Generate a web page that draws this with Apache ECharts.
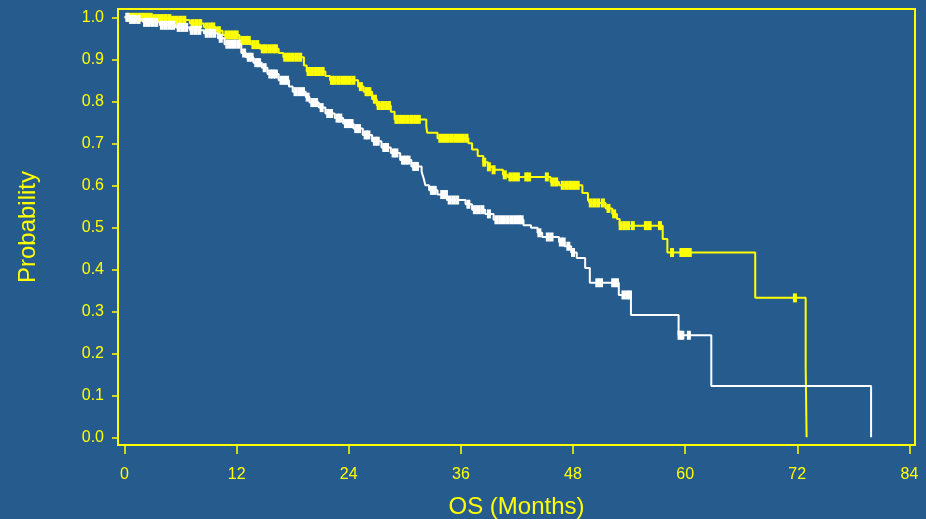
<!DOCTYPE html>
<html><head><meta charset="utf-8">
<script src="https://cdn.jsdelivr.net/npm/echarts@6/dist/echarts.min.js"></script>
<style>html,body{margin:0;padding:0;background:#265B8E;}#c{width:926px;height:519px;}</style>
</head><body><div id="c"></div>
<script>
// Group A (yellow) KM events: time (months), survival after event
const yellowTimes = [0, 3, 5, 7, 8.5, 9.8, 10.5, 12.3, 13.5, 14.5, 16.5, 17.0, 19.2, 19.5, 21.5, 22.0, 25.0, 25.6, 26.5, 27.0, 28.5, 28.9, 32.3, 32.4, 33.5, 36.8, 37.2, 37.8, 38.4, 38.9, 39.4, 40.5, 41.0, 45.6, 46.5, 49.0, 49.6, 49.8, 51.5, 52.2, 52.7, 53.0, 57.6, 58.1, 67.5, 72.9, 73.0];
const yellowSurv = [1.0, 0.997, 0.993, 0.985, 0.977, 0.968, 0.958, 0.945, 0.935, 0.925, 0.915, 0.905, 0.885, 0.871, 0.86, 0.85, 0.835, 0.823, 0.805, 0.79, 0.775, 0.757, 0.74, 0.725, 0.712, 0.70, 0.685, 0.67, 0.655, 0.644, 0.637, 0.625, 0.62, 0.608, 0.60, 0.582, 0.565, 0.558, 0.545, 0.532, 0.52, 0.504, 0.472, 0.44, 0.332, 0.167, 0.0];
const yellowCensor = [0.4, 0.8, 1.2, 1.6, 2.0, 2.4, 2.8, 3.2, 3.6, 4.0, 4.4, 4.8, 5.2, 5.6, 6.0, 6.4, 7.3, 7.7, 8.1, 8.8, 9.2, 9.5, 10.1, 10.9, 11.3, 11.7, 12.0, 12.6, 13.0, 13.3, 13.8, 14.2, 14.8, 15.1, 15.5, 15.9, 16.2, 17.2, 17.6, 18.0, 18.4, 18.8, 19.7, 20.0, 20.4, 20.8, 21.2, 22.2, 22.5, 22.9, 23.3, 23.7, 24.1, 24.5, 25.3, 25.9, 26.2, 26.8, 27.2, 27.6, 28.0, 28.3, 29.1, 29.5, 29.9, 30.3, 30.7, 31.1, 31.5, 33.8, 34.2, 34.6, 35.0, 35.4, 35.8, 36.2, 36.6, 38.5, 39.0, 39.5, 40.7, 41.3, 41.7, 42.1, 43.0, 43.3, 45.2, 45.8, 46.2, 46.9, 47.3, 47.7, 48.1, 48.5, 49.9, 50.3, 50.7, 51.2, 51.8, 52.4, 53.1, 53.5, 53.9, 54.4, 55.8, 56.2, 57.3, 58.6, 59.6, 59.9, 60.2, 60.5, 71.75];

// Group B (white)
const whiteTimes = [0, 0.5, 2, 3.8, 5.5, 7, 8.5, 10, 10.7, 12.5, 13.0, 13.8, 14.7, 15.3, 16.5, 17.6, 18.0, 19.4, 19.8, 20.8, 21.5, 22.5, 23.4, 24.5, 25.5, 26.5, 27.5, 28.5, 29.5, 30.7, 31.8, 32.0, 32.2, 32.6, 33.5, 34.5, 36.5, 37.2, 38.6, 39.5, 42.7, 43.5, 44.2, 44.7, 46.5, 47.1, 47.8, 48.4, 49.3, 49.8, 52.9, 54.2, 59.3, 62.8, 79.9];
const whiteSurv = [1.0, 0.995, 0.988, 0.981, 0.976, 0.969, 0.962, 0.95, 0.936, 0.915, 0.905, 0.892, 0.88, 0.865, 0.85, 0.835, 0.823, 0.81, 0.797, 0.785, 0.771, 0.76, 0.747, 0.735, 0.72, 0.705, 0.69, 0.677, 0.66, 0.645, 0.632, 0.618, 0.60, 0.588, 0.578, 0.565, 0.555, 0.542, 0.532, 0.518, 0.505, 0.499, 0.487, 0.477, 0.465, 0.455, 0.44, 0.427, 0.403, 0.368, 0.339, 0.291, 0.243, 0.122, 0.0];
const whiteCensor = [0.3, 0.7, 1.1, 1.5, 2.2, 2.6, 3.0, 3.4, 4.0, 4.4, 4.8, 5.2, 5.8, 6.2, 6.6, 7.2, 7.6, 8.0, 8.8, 9.2, 9.6, 10.3, 11.0, 11.4, 11.8, 12.2, 12.8, 13.3, 13.6, 14.1, 14.4, 15.0, 15.6, 15.9, 16.2, 16.8, 17.1, 17.4, 18.3, 18.7, 19.1, 19.6, 20.1, 20.5, 21.1, 21.8, 22.1, 22.8, 23.1, 23.7, 24.0, 24.3, 24.8, 25.1, 25.8, 26.1, 26.8, 27.1, 27.8, 28.1, 28.8, 29.1, 29.8, 30.1, 30.4, 31.0, 31.3, 32.9, 33.2, 34.0, 34.4, 34.8, 35.2, 35.6, 36.8, 37.5, 37.9, 38.3, 39.0, 39.8, 40.2, 40.6, 41.0, 41.4, 41.8, 42.2, 42.5, 44.4, 45.3, 45.7, 46.7, 47.0, 47.5, 48.0, 50.6, 51.0, 52.3, 52.7, 53.4, 53.8, 54.1, 59.4, 59.7, 60.4];

// Tick labels
const xTicks = [0, 12, 24, 36, 48, 60, 72, 84];
const yTicks = [0, 0.1, 0.2, 0.3, 0.4, 0.5, 0.6, 0.7, 0.8, 0.9, 1.0];

function curve(times, surv) { return times.map((t, i) => [t, surv[i]]); }
function censorPts(times, surv, cens) {
  return cens.map(c => {
    let s = surv[0];
    for (let i = 0; i < times.length; i++) { if (times[i] <= c) s = surv[i]; }
    return [c, s];
  });
}

const YEL = '#FFFF00', WHT = '#FFFFFF', BG = '#265B8E';
const chart = echarts.init(document.getElementById('c'), null, {renderer: 'canvas'});
chart.setOption({
  backgroundColor: BG,
  animation: false,
  textStyle: {fontFamily: 'Liberation Sans, Arial, sans-serif'},
  grid: {left: 118, right: 11, top: 9, bottom: 74, show: true, borderColor: YEL, borderWidth: 2,
         backgroundColor: 'transparent', containLabel: false, outerBoundsMode: 'none'},
  xAxis: {type: 'value', min: -0.696, max: 84.6,
     axisLine: {show: false, onZero: false}, splitLine: {show: false},
     axisTick: {show: true, inside: false, length: 9, customValues: xTicks, lineStyle: {color: YEL, width: 1.5}},
     axisLabel: {color: YEL, fontSize: 16, margin: 22, customValues: xTicks},
     name: 'OS (Months)', nameLocation: 'middle', nameGap: 50,
     nameTextStyle: {color: YEL, fontSize: 24}},
  yAxis: {type: 'value', min: -0.0183, max: 1.0198,
     axisLine: {show: false, onZero: false}, splitLine: {show: false},
     axisTick: {show: true, inside: false, length: 6, customValues: yTicks, lineStyle: {color: YEL, width: 1.5}},
     axisLabel: {color: YEL, fontSize: 16, margin: 14, customValues: yTicks, formatter: v => v.toFixed(1)},
     name: 'Probability', nameLocation: 'middle', nameGap: 78,
     nameTextStyle: {color: YEL, fontSize: 24}},
  series: [
    {type: 'line', step: 'end', data: curve(yellowTimes, yellowSurv), showSymbol: false, symbol: 'none',
     lineStyle: {color: YEL, width: 2}, z: 3},
    {type: 'scatter', data: censorPts(yellowTimes, yellowSurv, yellowCensor), symbol: 'rect', symbolSize: [4, 9],
     itemStyle: {color: YEL, opacity: 1}, z: 3},
    {type: 'line', step: 'end', data: curve(whiteTimes, whiteSurv), showSymbol: false, symbol: 'none',
     lineStyle: {color: WHT, width: 2}, z: 4},
    {type: 'scatter', data: censorPts(whiteTimes, whiteSurv, whiteCensor), symbol: 'rect', symbolSize: [4, 9],
     itemStyle: {color: WHT, opacity: 1}, z: 4}
  ]
});
</script></body></html>
